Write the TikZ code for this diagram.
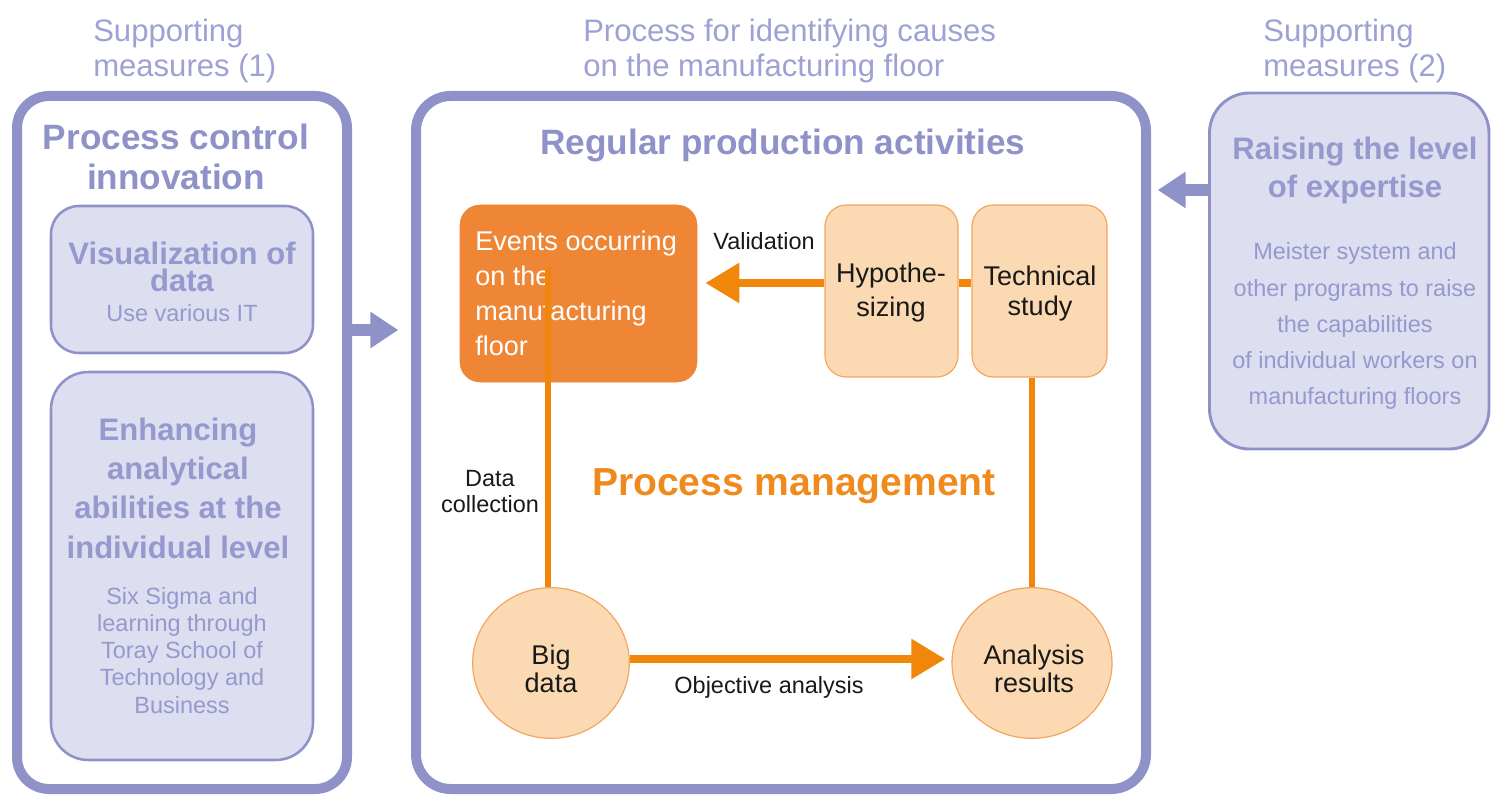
\documentclass[tikz,border=0pt]{standalone}
\usepackage{fontspec}
\setmainfont{Liberation Sans}
\usetikzlibrary{fit,shapes.geometric,arrows.meta}
\definecolor{lav}{RGB}{142,146,200}
\definecolor{lavfill}{RGB}{221,222,240}
\definecolor{lavtitle}{RGB}{158,161,212}
\definecolor{lavhead}{RGB}{142,146,200}
\definecolor{lavsoft}{RGB}{150,153,205}
\definecolor{orbox}{RGB}{238,134,54}
\definecolor{orline}{RGB}{240,135,10}
\definecolor{peach}{RGB}{251,218,179}
\definecolor{peachedge}{RGB}{245,165,95}
\definecolor{ortext}{RGB}{240,138,28}
\definecolor{labeltext}{RGB}{25,25,25}
\begin{document}
\begin{tikzpicture}[x=0.75pt,y=-0.75pt,
  frame/.style={draw=lav,line width=7.5pt,rounded corners=24pt,inner sep=0pt},
  lavbox/.style={draw=lav,fill=lavfill,line width=1.9pt,inner sep=0pt},
  peachbox/.style={draw=peachedge,fill=peach,line width=0.9pt,rounded corners=16pt,inner sep=0pt},
  bubble/.style={ellipse,draw=peachedge,fill=peach,line width=0.9pt,inner sep=0pt,minimum width=117.5pt,minimum height=113pt},
  toptitle/.style={font=\fontsize{23.3}{26.3}\selectfont,text=lavtitle,align=left,anchor=base west,inner sep=0pt},
  bighead/.style={font=\bfseries\fontsize{26.4}{30}\selectfont,text=lavhead,align=center,anchor=base,inner sep=0pt},
  midhead/.style={font=\bfseries\fontsize{23.3}{#1}\selectfont,text=lavsoft,align=center,anchor=base,inner sep=0pt},
  subtext/.style={font=\fontsize{17.6}{#1}\selectfont,text=lavsoft,align=center,anchor=base,inner sep=0pt},
  boxtext/.style={font=\fontsize{20.3}{#1}\selectfont,text=labeltext,align=center,anchor=base,inner sep=0pt},
  lbl/.style={font=\fontsize{17.6}{19.5}\selectfont,text=labeltext,align=center,anchor=base,inner sep=0pt},
  lavarrow/.style={draw=lav,line width=9.5pt,-{Triangle[length=21pt,width=26pt]}},
  orarrow/.style={draw=orline,line width=6.5pt,-{Triangle[length=25.5pt,width=28.5pt]}},
  orlink/.style={draw=orline,line width=4.5pt}
]
\useasboundingbox (0,0) rectangle (1491,798);

% top titles (base = baseline of last line)
\node[toptitle] (t1) at (93,77) {Supporting\\measures (1)};
\node[toptitle] (t2) at (583,77) {Process for identifying causes\\on the manufacturing floor};
\node[toptitle] (t3) at (1263,77) {Supporting\\measures (2)};

% containers
\node[frame,fit={(17,96) (347,789)}] (L) {};
\node[frame,rounded corners=26pt,fit={(416,96) (1146,789)}] (M) {};
\node[lavbox,line width=2.2pt,rounded corners=30pt,fit={(1209.5,93) (1489,449)}] (R) {};

% left panel
\node[bighead] (Lh) at (176,190) {Process control\\innovation};
\node[lavbox,rounded corners=21pt,fit={(51,206) (313,353)}] (V) {};
\node[midhead=20.5] (Vh) at (182,292) {Visualization of\\data};
\node[subtext=20.3] (Vs) at (182,322) {Use various IT};
\node[lavbox,rounded corners=28pt,fit={(51,372) (313,760)}] (E) {};
\node[midhead=29.3] (Eh) at (178,558) {Enhancing\\analytical\\abilities at the\\individual level};
\node[subtext=20.3] (Es) at (182,713) {Six Sigma and\\learning through\\Toray School of\\Technology and\\Business};

% right panel
\node[midhead=28.5] (Rh) at (1355,198) {Raising the level\\of expertise};
\node[subtext=27] (Rs) at (1355,404) {Meister system and\\other programs to raise\\the capabilities\\of individual workers on\\manufacturing floors};

% main panel
\node[bighead] (Mh) at (783,155) {Regular production activities};
\node[draw=orbox,fill=orbox,rounded corners=15pt,inner sep=0pt,fit={(460,205) (697,382)}] (Ev) {};
\node[font=\fontsize{20.3}{26}\selectfont,text=white,align=left,anchor=base west,inner sep=0pt] (Evt) at (475,355) {Events occurring\\on the\\manufacturing\\floor};
\node[peachbox,fit={(825,205) (958,377)}] (H) {};
\node[boxtext=25.5] (Ht) at (891,317) {Hypothe-\\sizing};
\node[peachbox,fit={(972,205) (1107,377)}] (T) {};
\node[boxtext=22.5] (Tt) at (1040,316) {Technical\\study};
\node[bubble] (B) at (551,663) {};
\node[boxtext=20.3] (Bt) at (551,692) {Big\\data};
\node[bubble,minimum width=120pt] (A) at (1032,663) {};
\node[boxtext=20.3] (At) at (1034,692) {Analysis\\results};

\node[lbl] (val) at (764,250) {Validation};
\node[lbl] (dc) at (490,512) {Data\\collection};
\node[lbl] (oa) at (769,693) {Objective analysis};
\node[font=\bfseries\fontsize{29.3}{32}\selectfont,text=ortext,anchor=base,inner sep=0pt] (pm) at (794,495) {Process management};

% connectors
\coordinate (dcs) at (548,267);
\coordinate (ya) at (0,283);
\coordinate (yb) at (0,659);
\coordinate (yl) at (0,330);
\coordinate (yr) at (0,190);
\draw[orlink] (dcs) -- (dcs |- B.north);
\draw[orlink] (A.north |- T.south) -- (A.north);
\draw[orlink,line width=6.5pt] (H.east |- ya) -- (T.west |- ya);
\draw[orarrow,shorten >=6pt] (H.west |- ya) -- (Ev.east |- ya);
\draw[orarrow,shorten >=4.5pt] (B.east |- yb) -- (A.west |- yb);
\draw[lavarrow,shorten >=9.5pt] (L.east |- yl) -- (M.west |- yl);
\draw[lavarrow,shorten >=5pt] (R.west |- yr) -- (M.east |- yr);
\end{tikzpicture}
\end{document}
